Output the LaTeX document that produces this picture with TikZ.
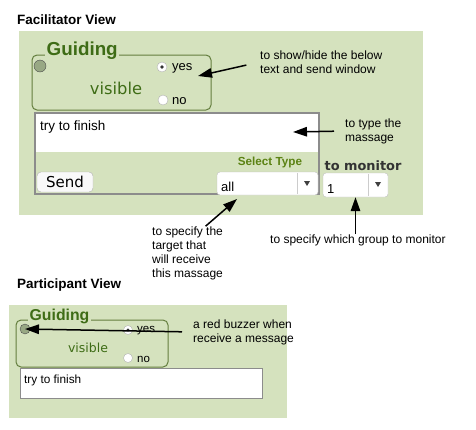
\documentclass[tikz,border=0pt]{standalone}
\usepackage{fontspec}
\setmainfont{Liberation Sans}
\newfontfamily\guifont{DejaVu Sans}
\usetikzlibrary{arrows.meta,shapes}
\definecolor{panel}{RGB}{213,226,190}
\definecolor{guidegreen}{RGB}{62,108,22}
\definecolor{framegreen}{RGB}{100,126,62}
\definecolor{buzzer}{RGB}{152,168,132}
\definecolor{boxgray}{RGB}{140,140,140}
\begin{document}
\begin{tikzpicture}[x=1pt, y=-1pt, >={Triangle[length=14pt,width=9.5pt]},
  note/.style={anchor=west, inner sep=0, align=left, font=\fontsize{12}{14}\selectfont},
  title/.style={anchor=west, inner sep=0, font=\fontsize{13.5}{16}\selectfont\bfseries},
  radio/.style={circle, draw=gray!60, fill=white, minimum size=10pt, inner sep=0},
  dropbox/.style={rectangle, rounded corners=3pt, draw=gray!50, fill=white, inner sep=0},
  arrow/.style={->, line width=1.5pt}]

\useasboundingbox[fill=white] (0,0) rectangle (476,429);

% Facilitator view
\node[title] (ftitle) at (17,20) {Facilitator View};
\fill[panel] (19,31) rectangle (423,215);

\draw[framegreen, line width=1pt, rounded corners=5pt] (32,55) rectangle (211,110);
\node[anchor=west, inner sep=1.5pt, fill=panel, text=guidegreen, font=\fontsize{18.8}{20}\selectfont\bfseries] (fguide) at (45,51) {Guiding};
\node[circle, draw=gray!60!black, fill=buzzer, minimum size=12pt, inner sep=0] (fbuzz) at (40,66) {};
\node[radio] (fyes) at (162,67) {};
\fill[black!80] (fyes) circle (1.8);
\node[anchor=west, inner sep=0, font=\fontsize{13}{15}\selectfont] (fyestxt) at (172,68) {yes};
\node[text=guidegreen, inner sep=0, font=\guifont\fontsize{16.3}{18}\selectfont] (fvis) at (116,88) {visible};
\node[radio] (fno) at (163,100) {};
\node[anchor=west, inner sep=0, font=\fontsize{13}{15}\selectfont] (fnotxt) at (172,101) {no};

% Message box
\fill[white] (35,113) rectangle (319,152);
\draw[boxgray, line width=1.2pt] (35,113) rectangle (319,194);
\node[anchor=west, inner sep=0, font=\fontsize{13.5}{16}\selectfont] (fmsg) at (40,127) {try to finish};
\node[rectangle, rounded corners=4pt, draw=gray!60, fill=gray!5, minimum width=56pt, minimum height=20pt,
  font=\guifont\fontsize{15}{17}\selectfont] (send) at (65,182) {Send};
\node[text=guidegreen!85!yellow, inner sep=0, font=\fontsize{11.7}{14}\selectfont\bfseries] (seltype) at (270,162) {Select Type};
\node[dropbox, minimum width=101pt, minimum height=23pt] (alldrop) at (267.5,183.5) {};
\draw[gray!40] (297,173) -- (297,194);
\fill[black!75] (304,181) -- (310,181) -- (307,186) -- cycle;
\node[anchor=base west, inner sep=0, font=\fontsize{13}{15}\selectfont] (alltxt) at (221,191) {all};

\node[inner sep=0, text=black!80, font=\guifont\fontsize{12.9}{15}\selectfont\bfseries] (monitor) at (363,166) {to monitor};
\node[dropbox, minimum width=65pt, minimum height=24pt] (mondrop) at (355.5,185) {};
\draw[gray!40] (368,174) -- (368,196);
\fill[black!75] (375,182) -- (381,182) -- (378,187) -- cycle;
\node[anchor=base west, inner sep=0, font=\fontsize{13}{15}\selectfont] (montxt) at (327,193) {1};

% Notes
\node[note] (shownote) at (260,62) {to show/hide the below\\text and send window};
\node[note] (typenote) at (345,131) {to type the\\massage};
\node[note] (specnote) at (152,253) {to specify the\\target that\\will receive\\this massage};
\node[note] (grpnote) at (270,240) {to specify which group to monitor};
\coordinate (yesptr) at (198,76);
\coordinate (msgptr) at (293,132);
\coordinate (allptr) at (237,199);
\draw[arrow, shorten <=14pt] (shownote.west) -- (yesptr);
\draw[arrow, shorten <=11pt] (typenote.west) -- (msgptr);
\draw[arrow] ([xshift=18pt]specnote.north) -- (allptr);
\draw[arrow] (grpnote.north -| mondrop.south) -- (mondrop.south);

% Participant view
\node[title] (ptitle) at (17,285) {Participant View};
\fill[panel] (9,305) rectangle (287,418);

\draw[framegreen, line width=1pt, rounded corners=5pt] (16,320) rectangle (168,367);
\node[anchor=west, inner sep=1.5pt, fill=panel, text=guidegreen, font=\fontsize{15.8}{17}\selectfont\bfseries] (pguide) at (28,316) {Guiding};
\node[circle, draw=gray!60!black, fill=buzzer, minimum size=10pt, inner sep=0] (pbuzz) at (25,329) {};
\node[radio, minimum size=9pt] (pyes) at (128,330) {};
\fill[black!80] (pyes) circle (1.6);
\node[anchor=west, inner sep=0, font=\fontsize{11.5}{14}\selectfont] (pyestxt) at (137,331) {yes};
\node[text=guidegreen, inner sep=0, font=\guifont\fontsize{12.5}{15}\selectfont] (pvis) at (88,348) {visible};
\node[radio, minimum size=9pt] (pno) at (128,358) {};
\node[anchor=west, inner sep=0, font=\fontsize{11.5}{14}\selectfont] (pnotxt) at (137,359) {no};

\draw[boxgray, fill=white, line width=1pt] (20,368) rectangle (262,398);
\node[anchor=west, inner sep=0, font=\fontsize{11.8}{14}\selectfont] (pmsg) at (24,380) {try to finish};

\node[note] (buzznote) at (193,332) {a red buzzer when\\receive a message};
\draw[arrow, shorten <=11pt] (buzznote.west) -- (pbuzz.center);

\end{tikzpicture}
\end{document}
